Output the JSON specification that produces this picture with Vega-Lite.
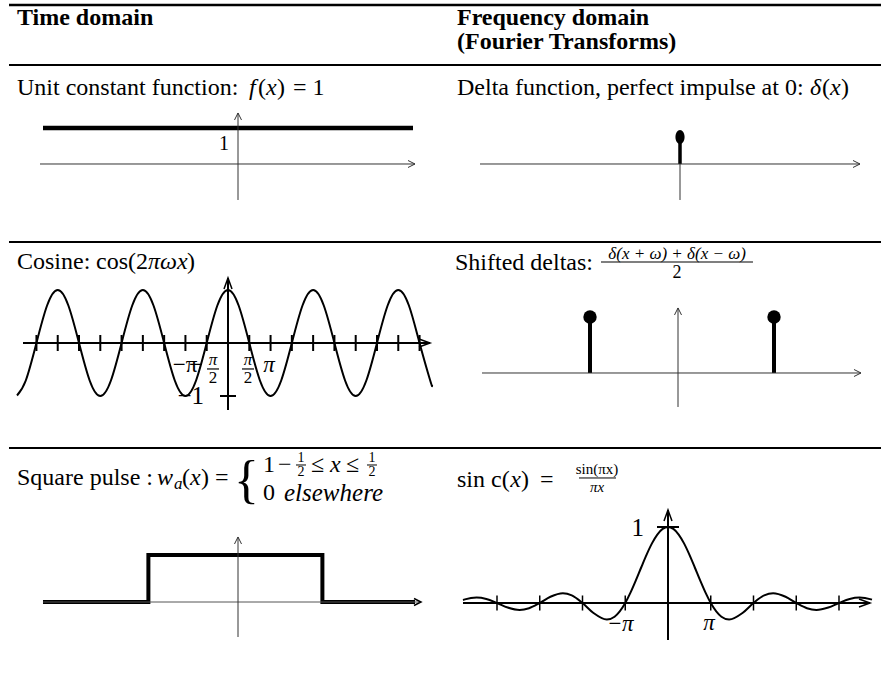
{
"$schema": "https://vega.github.io/schema/vega-lite/v6.json",
"padding": 0,
"background": "white",
"bounds": "flush",
"spacing": 0,
"columns": 2,
"align": "each",
"config": {
  "view": {"stroke": null},
  "axis": {"disable": true},
  "mark": {"color": "black"},
  "text": {"font": "Liberation Serif", "fontSize": 24},
  "concat": {"spacing": 0}
},
"concat": [
  {"width": 440, "height": 65, "data": {"values": [{}]},
   "layer": [
    {"mark": {"type": "rule", "strokeWidth": 2.5}, "encoding": {"x": {"datum": 0.0205, "scale": {"domain": [0, 1], "nice": false, "zero": false}}, "x2": {"datum": 1}, "y": {"datum": 0.923, "scale": {"domain": [0, 1], "nice": false, "zero": false}}}},
    {"mark": {"type": "text", "align": "left", "baseline": "middle", "fontWeight": "bold"}, "encoding": {"x": {"datum": 0.0386}, "y": {"datum": 0.723}, "text": {"value": "Time domain"}}}
   ]},
  {"width": 441, "height": 65, "data": {"values": [{}]},
   "layer": [
    {"mark": {"type": "rule", "strokeWidth": 2.5}, "encoding": {"x": {"datum": 0, "scale": {"domain": [0, 1], "nice": false, "zero": false}}, "x2": {"datum": 1}, "y": {"datum": 0.923, "scale": {"domain": [0, 1], "nice": false, "zero": false}}}},
    {"mark": {"type": "text", "align": "left", "baseline": "middle", "fontWeight": "bold"}, "encoding": {"x": {"datum": 0.0385}, "y": {"datum": 0.723}, "text": {"value": "Frequency domain"}}},
    {"mark": {"type": "text", "align": "left", "baseline": "middle", "fontWeight": "bold"}, "encoding": {"x": {"datum": 0.0385}, "y": {"datum": 0.354}, "text": {"value": "(Fourier Transforms)"}}}
   ]},
  {"width": 440, "height": 177, "data": {"values": [{}]},
   "layer": [
    {"data": {"values": [{"x": -9.75, "y": 1}, {"x": 8.75, "y": 1}]}, "mark": {"type": "line", "strokeWidth": 4.5, "strokeCap": "butt"},
     "encoding": {"x": {"field": "x", "type": "quantitative", "scale": {"domain": [-11.9, 10.1], "nice": false, "zero": false}}, "y": {"field": "y", "type": "quantitative", "scale": {"domain": [-2.1667, 2.75], "nice": false, "zero": false}}}},
    {"mark": {"type": "rule", "strokeWidth": 2}, "encoding": {"x": {"datum": -11.45}, "x2": {"datum": 10.1}, "y": {"datum": 2.75}}},
    {"mark": {"type": "text", "align": "left", "baseline": "middle"}, "encoding": {"x": {"datum": -11.05}, "y": {"datum": 2.111}, "text": {"value": "Unit constant function:"}}},
    {"mark": {"type": "text", "align": "left", "baseline": "middle", "fontStyle": "italic"}, "encoding": {"x": {"datum": 0.55}, "y": {"datum": 2.111}, "text": {"value": "f"}}},
    {"mark": {"type": "text", "align": "left", "baseline": "middle"}, "encoding": {"x": {"datum": 1.0}, "y": {"datum": 2.111}, "text": {"value": "("}}},
    {"mark": {"type": "text", "align": "left", "baseline": "middle", "fontStyle": "italic"}, "encoding": {"x": {"datum": 1.4}, "y": {"datum": 2.111}, "text": {"value": "x"}}},
    {"mark": {"type": "text", "align": "left", "baseline": "middle"}, "encoding": {"x": {"datum": 1.95}, "y": {"datum": 2.111}, "text": {"value": ")"}}},
    {"mark": {"type": "text", "align": "left", "baseline": "middle"}, "encoding": {"x": {"datum": 2.75}, "y": {"datum": 2.111}, "text": {"value": "= 1"}}},
    {"mark": {"type": "rule", "strokeWidth": 1, "color": "#333"}, "encoding": {"x": {"datum": -9.9}, "x2": {"datum": 8.85}, "y": {"datum": 0}}},
    {"mark": {"type": "point", "shape": "M-2,-1L0,0L-2,1", "size": 49, "filled": false, "strokeWidth": 1, "color": "#333", "opacity": 1}, "encoding": {"x": {"datum": 8.85}, "y": {"datum": 0}}},
    {"mark": {"type": "rule", "strokeWidth": 1, "color": "#333"}, "encoding": {"x": {"datum": 0}, "y": {"datum": -1}, "y2": {"datum": 1.4167}}},
    {"mark": {"type": "point", "shape": "M-1,2L0,0L1,2", "size": 49, "filled": false, "strokeWidth": 1, "color": "#333", "opacity": 1}, "encoding": {"x": {"datum": 0}, "y": {"datum": 1.4167}}},
    {"mark": {"type": "text", "align": "center", "baseline": "middle", "fontSize": 20}, "encoding": {"x": {"datum": -0.7}, "y": {"datum": 0.556}, "text": {"value": "1"}}}
   ]},
  {"width": 441, "height": 177, "data": {"values": [{}]},
   "layer": [
    {"data": {"values": [{"x": 0, "y": 0.75}]}, "mark": {"type": "rule", "strokeWidth": 3.5},
     "encoding": {"x": {"field": "x", "type": "quantitative", "scale": {"domain": [-12, 10.05], "nice": false, "zero": false}}, "y": {"field": "y", "type": "quantitative", "scale": {"domain": [-2.1667, 2.75], "nice": false, "zero": false}}, "y2": {"datum": 0}}},
    {"data": {"values": [{"x": 0, "y": 0.75}]}, "mark": {"type": "point", "shape": "M0,-1C0.359,-1,0.65,-0.552,0.65,0C0.65,0.552,0.359,1,0,1C-0.359,1,-0.65,0.552,-0.65,0C-0.65,-0.552,-0.359,-1,0,-1Z", "size": 196, "filled": true, "opacity": 1},
     "encoding": {"x": {"field": "x", "type": "quantitative"}, "y": {"field": "y", "type": "quantitative"}}},
    {"mark": {"type": "rule", "strokeWidth": 2}, "encoding": {"x": {"datum": -12}, "x2": {"datum": 10.05}, "y": {"datum": 2.75}}},
    {"mark": {"type": "text", "align": "left", "baseline": "middle"}, "encoding": {"x": {"datum": -11.15}, "y": {"datum": 2.111}, "text": {"value": "Delta function, perfect impulse at 0:"}}},
    {"mark": {"type": "text", "align": "left", "baseline": "middle", "fontStyle": "italic"}, "encoding": {"x": {"datum": 6.5}, "y": {"datum": 2.111}, "text": {"value": "δ"}}},
    {"mark": {"type": "text", "align": "left", "baseline": "middle"}, "encoding": {"x": {"datum": 7.1}, "y": {"datum": 2.111}, "text": {"value": "("}}},
    {"mark": {"type": "text", "align": "left", "baseline": "middle", "fontStyle": "italic"}, "encoding": {"x": {"datum": 7.5}, "y": {"datum": 2.111}, "text": {"value": "x"}}},
    {"mark": {"type": "text", "align": "left", "baseline": "middle"}, "encoding": {"x": {"datum": 8.05}, "y": {"datum": 2.111}, "text": {"value": ")"}}},
    {"mark": {"type": "rule", "strokeWidth": 1, "color": "#333"}, "encoding": {"x": {"datum": -10}, "x2": {"datum": 9}, "y": {"datum": 0}}},
    {"mark": {"type": "point", "shape": "M-2,-1L0,0L-2,1", "size": 49, "filled": false, "strokeWidth": 1, "color": "#333", "opacity": 1}, "encoding": {"x": {"datum": 9}, "y": {"datum": 0}}},
    {"mark": {"type": "rule", "strokeWidth": 1, "color": "#333"}, "encoding": {"x": {"datum": 0}, "y": {"datum": -1}, "y2": {"datum": 0}}}
   ]},
  {"width": 440, "height": 206, "data": {"values": [{}]},
   "layer": [
    {"data": {"values": [
      {"x": -15.57, "y": -0.9905}, {"x": -14.9226, "y": -0.7071}, {"x": -14.1372, "y": 0}, {"x": -13.3518, "y": 0.7071}, {"x": -12.5664, "y": 1}, {"x": -11.781, "y": 0.7071}, {"x": -10.9956, "y": 0}, {"x": -10.2102, "y": -0.7071}, {"x": -9.4248, "y": -1}, {"x": -8.6394, "y": -0.7071}, {"x": -7.854, "y": 0}, {"x": -7.0686, "y": 0.7071}, {"x": -6.2832, "y": 1}, {"x": -5.4978, "y": 0.7071}, {"x": -4.7124, "y": 0}, {"x": -3.927, "y": -0.7071}, {"x": -3.1416, "y": -1}, {"x": -2.3562, "y": -0.7071}, {"x": -1.5708, "y": 0}, {"x": -0.7854, "y": 0.7071}, {"x": 0, "y": 1}, {"x": 0.7854, "y": 0.7071}, {"x": 1.5708, "y": 0}, {"x": 2.3562, "y": -0.7071}, {"x": 3.1416, "y": -1}, {"x": 3.927, "y": -0.7071}, {"x": 4.7124, "y": 0}, {"x": 5.4978, "y": 0.7071}, {"x": 6.2832, "y": 1}, {"x": 7.0686, "y": 0.7071}, {"x": 7.854, "y": 0}, {"x": 8.6394, "y": -0.7071}, {"x": 9.4248, "y": -1}, {"x": 10.2102, "y": -0.7071}, {"x": 10.9956, "y": 0}, {"x": 11.781, "y": 0.7071}, {"x": 12.5664, "y": 1}, {"x": 13.3518, "y": 0.7071}, {"x": 14.1372, "y": 0}, {"x": 14.9226, "y": -0.7071}, {"x": 15.055, "y": -0.795}
     ]}, "mark": {"type": "line", "strokeWidth": 2, "interpolate": "natural"},
     "encoding": {"x": {"field": "x", "type": "quantitative", "scale": {"domain": [-16.8266, 15.6458], "nice": false, "zero": false}}, "y": {"field": "y", "type": "quantitative", "scale": {"domain": [-1.9811, 1.9057], "nice": false, "zero": false}}}},
    {"data": {"values": [{"x": -14.1372}, {"x": -12.5664}, {"x": -10.9956}, {"x": -9.4248}, {"x": -7.854}, {"x": -6.2832}, {"x": -4.7124}, {"x": -3.1416}, {"x": -1.5708}, {"x": 1.5708}, {"x": 3.1416}, {"x": 4.7124}, {"x": 6.2832}, {"x": 7.854}, {"x": 9.4248}, {"x": 10.9956}, {"x": 12.5664}, {"x": 14.1372}]},
     "mark": {"type": "rule", "strokeWidth": 2}, "encoding": {"x": {"field": "x", "type": "quantitative"}, "y": {"datum": -0.151}, "y2": {"datum": 0.151}}},
    {"mark": {"type": "rule", "strokeWidth": 2}, "encoding": {"x": {"datum": -16.1624}, "x2": {"datum": 15.6458}, "y": {"datum": 1.9057}}},
    {"mark": {"type": "text", "align": "left", "baseline": "middle"}, "encoding": {"x": {"datum": -15.572}, "y": {"datum": 1.528}, "text": {"value": "Cosine:"}}},
    {"mark": {"type": "text", "align": "left", "baseline": "middle"}, "encoding": {"x": {"datum": -9.742}, "y": {"datum": 1.528}, "text": {"value": "cos(2"}}},
    {"mark": {"type": "text", "align": "left", "baseline": "middle", "fontStyle": "italic"}, "encoding": {"x": {"datum": -5.904}, "y": {"datum": 1.528}, "text": {"value": "πωx"}}},
    {"mark": {"type": "text", "align": "left", "baseline": "middle"}, "encoding": {"x": {"datum": -3.026}, "y": {"datum": 1.528}, "text": {"value": ")"}}},
    {"mark": {"type": "rule", "strokeWidth": 2}, "encoding": {"x": {"datum": -15.129}, "x2": {"datum": 14.908}, "y": {"datum": 0}}},
    {"mark": {"type": "point", "shape": "M-2.75,-1L0,0L-2.75,1", "size": 64, "filled": false, "strokeWidth": 1.5, "opacity": 1}, "encoding": {"x": {"datum": 14.908}, "y": {"datum": 0}}},
    {"mark": {"type": "rule", "strokeWidth": 2}, "encoding": {"x": {"datum": 0}, "y": {"datum": -1.264}, "y2": {"datum": 1.226}}},
    {"mark": {"type": "point", "shape": "M-1,2.75L0,0L1,2.75", "size": 64, "filled": false, "strokeWidth": 1.5, "opacity": 1}, "encoding": {"x": {"datum": 0}, "y": {"datum": 1.226}}},
    {"mark": {"type": "rule", "strokeWidth": 2}, "encoding": {"x": {"datum": -0.59}, "x2": {"datum": 0.59}, "y": {"datum": -1}}},
    {"mark": {"type": "text", "align": "right", "baseline": "middle", "fontSize": 25}, "encoding": {"x": {"datum": -1.771}, "y": {"datum": -1.0}, "text": {"value": "−1"}}},
    {"mark": {"type": "text", "align": "center", "baseline": "middle", "fontSize": 23}, "encoding": {"x": {"datum": -3.173}, "y": {"datum": -0.415}, "text": {"value": "−π"}}},
    {"mark": {"type": "text", "align": "center", "baseline": "middle", "fontSize": 23}, "encoding": {"x": {"datum": -2.4}, "y": {"datum": -0.415}, "text": {"value": "−"}}},
    {"mark": {"type": "text", "align": "center", "baseline": "middle", "fontSize": 17, "fontStyle": "italic"}, "encoding": {"x": {"datum": -1.107}, "y": {"datum": -0.33}, "text": {"value": "π"}}},
    {"mark": {"type": "rule", "strokeWidth": 1.2}, "encoding": {"x": {"datum": -1.55}, "x2": {"datum": -0.664}, "y": {"datum": -0.49}}},
    {"mark": {"type": "text", "align": "center", "baseline": "middle", "fontSize": 17}, "encoding": {"x": {"datum": -1.107}, "y": {"datum": -0.66}, "text": {"value": "2"}}},
    {"mark": {"type": "text", "align": "center", "baseline": "middle", "fontSize": 17, "fontStyle": "italic"}, "encoding": {"x": {"datum": 1.476}, "y": {"datum": -0.33}, "text": {"value": "π"}}},
    {"mark": {"type": "rule", "strokeWidth": 1.2}, "encoding": {"x": {"datum": 1.033}, "x2": {"datum": 1.919}, "y": {"datum": -0.49}}},
    {"mark": {"type": "text", "align": "center", "baseline": "middle", "fontSize": 17}, "encoding": {"x": {"datum": 1.476}, "y": {"datum": -0.66}, "text": {"value": "2"}}},
    {"mark": {"type": "text", "align": "center", "baseline": "middle", "fontSize": 23, "fontStyle": "italic"}, "encoding": {"x": {"datum": 3.026}, "y": {"datum": -0.415}, "text": {"value": "π"}}}
   ]},
  {"width": 441, "height": 206, "data": {"values": [{}]},
   "layer": [
    {"data": {"values": [{"x": -0.9565, "y": 1}, {"x": 1.0435, "y": 1}]}, "mark": {"type": "rule", "strokeWidth": 4},
     "encoding": {"x": {"field": "x", "type": "quantitative", "scale": {"domain": [-2.587, 2.2065], "nice": false, "zero": false}}, "y": {"field": "y", "type": "quantitative", "scale": {"domain": [-1.3393, 2.3393], "nice": false, "zero": false}}, "y2": {"datum": 0}}},
    {"data": {"values": [{"x": -0.9565, "y": 1}, {"x": 1.0435, "y": 1}]}, "mark": {"type": "point", "shape": "circle", "size": 180, "filled": true, "opacity": 1},
     "encoding": {"x": {"field": "x", "type": "quantitative"}, "y": {"field": "y", "type": "quantitative"}}},
    {"mark": {"type": "rule", "strokeWidth": 2}, "encoding": {"x": {"datum": -2.587}, "x2": {"datum": 2.2065}, "y": {"datum": 2.3393}}},
    {"mark": {"type": "text", "align": "left", "baseline": "middle"}, "encoding": {"x": {"datum": -2.424}, "y": {"datum": 1.964}, "text": {"value": "Shifted deltas:"}}},
    {"mark": {"type": "text", "align": "center", "baseline": "middle", "fontSize": 17, "fontStyle": "italic"}, "encoding": {"x": {"datum": -0.01}, "y": {"datum": 2.13}, "text": {"value": "δ(x + ω) + δ(x − ω)"}}},
    {"mark": {"type": "rule", "strokeWidth": 1.2}, "encoding": {"x": {"datum": -0.837}, "x2": {"datum": 0.815}, "y": {"datum": 1.982}}},
    {"mark": {"type": "text", "align": "center", "baseline": "middle", "fontSize": 18}, "encoding": {"x": {"datum": -0.01}, "y": {"datum": 1.786}, "text": {"value": "2"}}},
    {"mark": {"type": "rule", "strokeWidth": 1, "color": "#333"}, "encoding": {"x": {"datum": -2.1304}, "x2": {"datum": 1.9891}, "y": {"datum": 0}}},
    {"mark": {"type": "point", "shape": "M-2,-1L0,0L-2,1", "size": 49, "filled": false, "strokeWidth": 1, "color": "#333", "opacity": 1}, "encoding": {"x": {"datum": 1.9891}, "y": {"datum": 0}}},
    {"mark": {"type": "rule", "strokeWidth": 1, "color": "#333"}, "encoding": {"x": {"datum": 0}, "y": {"datum": -0.607}, "y2": {"datum": 1.161}}},
    {"mark": {"type": "point", "shape": "M-1,2L0,0L1,2", "size": 49, "filled": false, "strokeWidth": 1, "color": "#333", "opacity": 1}, "encoding": {"x": {"datum": 0}, "y": {"datum": 1.161}}}
   ]},
  {"width": 440, "height": 229, "data": {"values": [{}]},
   "layer": [
    {"data": {"values": [{"i": 0, "x": -1.1207, "y": 0}, {"i": 1, "x": -0.515, "y": 0}, {"i": 2, "x": -0.515, "y": 1}, {"i": 3, "x": 0.485, "y": 1}, {"i": 4, "x": 0.485, "y": 0}, {"i": 5, "x": 1.0172, "y": 0}]},
     "mark": {"type": "line", "strokeWidth": 4, "strokeJoin": "miter", "strokeCap": "butt"},
     "encoding": {"x": {"field": "x", "type": "quantitative", "scale": {"domain": [-1.3678, 1.1609], "nice": false, "zero": false}}, "y": {"field": "y", "type": "quantitative", "scale": {"domain": [-1.5957, 3.2766], "nice": false, "zero": false}}, "order": {"field": "i", "type": "quantitative"}}},
    {"mark": {"type": "rule", "strokeWidth": 2}, "encoding": {"x": {"datum": -1.3161}, "x2": {"datum": 1.1609}, "y": {"datum": 3.2766}}},
    {"mark": {"type": "text", "align": "left", "baseline": "middle"}, "encoding": {"x": {"datum": -1.2701}, "y": {"datum": 2.638}, "text": {"value": "Square pulse :"}}},
    {"mark": {"type": "text", "align": "left", "baseline": "middle", "fontStyle": "italic"}, "encoding": {"x": {"datum": -0.4655}, "y": {"datum": 2.638}, "text": {"value": "w"}}},
    {"mark": {"type": "text", "align": "left", "baseline": "middle", "fontStyle": "italic", "fontSize": 17}, "encoding": {"x": {"datum": -0.3678}, "y": {"datum": 2.511}, "text": {"value": "a"}}},
    {"mark": {"type": "text", "align": "left", "baseline": "middle"}, "encoding": {"x": {"datum": -0.3218}, "y": {"datum": 2.638}, "text": {"value": "("}}},
    {"mark": {"type": "text", "align": "left", "baseline": "middle", "fontStyle": "italic"}, "encoding": {"x": {"datum": -0.2759}, "y": {"datum": 2.638}, "text": {"value": "x"}}},
    {"mark": {"type": "text", "align": "left", "baseline": "middle"}, "encoding": {"x": {"datum": -0.2126}, "y": {"datum": 2.638}, "text": {"value": ")"}}},
    {"mark": {"type": "text", "align": "left", "baseline": "middle"}, "encoding": {"x": {"datum": -0.1322}, "y": {"datum": 2.638}, "text": {"value": "="}}},
    {"mark": {"type": "text", "align": "left", "baseline": "middle", "fontSize": 52}, "encoding": {"x": {"datum": -0.023}, "y": {"datum": 2.58}, "text": {"value": "{"}}},
    {"mark": {"type": "text", "align": "left", "baseline": "middle"}, "encoding": {"x": {"datum": 0.1437}, "y": {"datum": 2.915}, "text": {"value": "1"}}},
    {"mark": {"type": "text", "align": "left", "baseline": "middle"}, "encoding": {"x": {"datum": 0.2299}, "y": {"datum": 2.915}, "text": {"value": "−"}}},
    {"mark": {"type": "text", "align": "center", "baseline": "middle", "fontSize": 14}, "encoding": {"x": {"datum": 0.3621}, "y": {"datum": 3.064}, "text": {"value": "1"}}},
    {"mark": {"type": "rule", "strokeWidth": 1}, "encoding": {"x": {"datum": 0.3333}, "x2": {"datum": 0.3908}, "y": {"datum": 2.915}}},
    {"mark": {"type": "text", "align": "center", "baseline": "middle", "fontSize": 14}, "encoding": {"x": {"datum": 0.3621}, "y": {"datum": 2.766}, "text": {"value": "2"}}},
    {"mark": {"type": "text", "align": "left", "baseline": "middle"}, "encoding": {"x": {"datum": 0.4195}, "y": {"datum": 2.915}, "text": {"value": "≤"}}},
    {"mark": {"type": "text", "align": "left", "baseline": "middle", "fontStyle": "italic"}, "encoding": {"x": {"datum": 0.5287}, "y": {"datum": 2.915}, "text": {"value": "x"}}},
    {"mark": {"type": "text", "align": "left", "baseline": "middle"}, "encoding": {"x": {"datum": 0.6207}, "y": {"datum": 2.915}, "text": {"value": "≤"}}},
    {"mark": {"type": "text", "align": "center", "baseline": "middle", "fontSize": 14}, "encoding": {"x": {"datum": 0.77}, "y": {"datum": 3.064}, "text": {"value": "1"}}},
    {"mark": {"type": "rule", "strokeWidth": 1}, "encoding": {"x": {"datum": 0.7413}, "x2": {"datum": 0.7987}, "y": {"datum": 2.915}}},
    {"mark": {"type": "text", "align": "center", "baseline": "middle", "fontSize": 14}, "encoding": {"x": {"datum": 0.77}, "y": {"datum": 2.766}, "text": {"value": "2"}}},
    {"mark": {"type": "text", "align": "left", "baseline": "middle"}, "encoding": {"x": {"datum": 0.1437}, "y": {"datum": 2.319}, "text": {"value": "0"}}},
    {"mark": {"type": "text", "align": "left", "baseline": "middle", "fontStyle": "italic", "fontSize": 25}, "encoding": {"x": {"datum": 0.2644}, "y": {"datum": 2.319}, "text": {"value": "elsewhere"}}},
    {"mark": {"type": "rule", "strokeWidth": 1, "color": "#555"}, "encoding": {"x": {"datum": -1.1207}, "x2": {"datum": 1.0517}, "y": {"datum": 0}}},
    {"mark": {"type": "point", "shape": "M-2,-1L0,0L-2,1", "size": 49, "filled": false, "strokeWidth": 1.5, "opacity": 1}, "encoding": {"x": {"datum": 1.0517}, "y": {"datum": 0}}},
    {"mark": {"type": "rule", "strokeWidth": 1, "color": "#333"}, "encoding": {"x": {"datum": 0}, "y": {"datum": -0.7447}, "y2": {"datum": 1.383}}},
    {"mark": {"type": "point", "shape": "M-1,2L0,0L1,2", "size": 49, "filled": false, "strokeWidth": 1, "color": "#333", "opacity": 1}, "encoding": {"x": {"datum": 0}, "y": {"datum": 1.383}}}
   ]},
  {"width": 441, "height": 229, "data": {"values": [{}]},
   "layer": [
    {"data": {"values": [
      {"x": -15.065, "y": 0.0395}, {"x": -14.9226, "y": 0.0474}, {"x": -14.0662, "y": 0.0709}, {"x": -13.3518, "y": 0.053}, {"x": -12.5664, "y": 0}, {"x": -11.781, "y": -0.06}, {"x": -10.9041, "y": -0.0913}, {"x": -10.2102, "y": -0.0693}, {"x": -9.4248, "y": 0}, {"x": -8.6394, "y": 0.0818}, {"x": -7.7253, "y": 0.1284}, {"x": -7.0686, "y": 0.1}, {"x": -6.2832, "y": 0}, {"x": -5.4978, "y": -0.1286}, {"x": -4.4934, "y": -0.2172}, {"x": -3.927, "y": -0.1801}, {"x": -3.1416, "y": 0}, {"x": -2.7489, "y": 0.1392}, {"x": -2.3562, "y": 0.3001}, {"x": -1.9635, "y": 0.4705}, {"x": -1.5708, "y": 0.6366}, {"x": -1.1781, "y": 0.7842}, {"x": -0.7854, "y": 0.9003}, {"x": -0.3927, "y": 0.9745}, {"x": 0, "y": 1},
      {"x": 0.3927, "y": 0.9745}, {"x": 0.7854, "y": 0.9003}, {"x": 1.1781, "y": 0.7842}, {"x": 1.5708, "y": 0.6366}, {"x": 1.9635, "y": 0.4705}, {"x": 2.3562, "y": 0.3001}, {"x": 2.7489, "y": 0.1392}, {"x": 3.1416, "y": 0}, {"x": 3.927, "y": -0.1801}, {"x": 4.4934, "y": -0.2172}, {"x": 5.4978, "y": -0.1286}, {"x": 6.2832, "y": 0}, {"x": 7.0686, "y": 0.1}, {"x": 7.7253, "y": 0.1284}, {"x": 8.6394, "y": 0.0818}, {"x": 9.4248, "y": 0}, {"x": 10.2102, "y": -0.0693}, {"x": 10.9041, "y": -0.0913}, {"x": 11.781, "y": -0.06}, {"x": 12.5664, "y": 0}, {"x": 13.3518, "y": 0.053}, {"x": 14.0662, "y": 0.0709}, {"x": 14.9226, "y": 0.0474}, {"x": 14.99, "y": 0.0439}
     ]}, "mark": {"type": "line", "strokeWidth": 2, "interpolate": "monotone"},
     "encoding": {"x": {"field": "x", "type": "quantitative", "scale": {"domain": [-16.755, 15.653], "nice": false, "zero": false}}, "y": {"field": "y", "type": "quantitative", "scale": {"domain": [-0.9737, 2.0395], "nice": false, "zero": false}}}},
    {"data": {"values": [{"x": -12.5664}, {"x": -9.4248}, {"x": -6.2832}, {"x": -3.1416}, {"x": 3.1416}, {"x": 6.2832}, {"x": 9.4248}, {"x": 12.5664}]},
     "mark": {"type": "rule", "strokeWidth": 1.5}, "encoding": {"x": {"field": "x", "type": "quantitative"}, "y": {"datum": -0.099}, "y2": {"datum": 0.099}}},
    {"mark": {"type": "rule", "strokeWidth": 2}, "encoding": {"x": {"datum": -16.755}, "x2": {"datum": 15.653}, "y": {"datum": 2.0395}}},
    {"mark": {"type": "text", "align": "left", "baseline": "middle"}, "encoding": {"x": {"datum": -15.505}, "y": {"datum": 1.618}, "text": {"value": "sin c("}}},
    {"mark": {"type": "text", "align": "left", "baseline": "middle", "fontStyle": "italic"}, "encoding": {"x": {"datum": -11.6}, "y": {"datum": 1.618}, "text": {"value": "x"}}},
    {"mark": {"type": "text", "align": "left", "baseline": "middle"}, "encoding": {"x": {"datum": -10.8}, "y": {"datum": 1.618}, "text": {"value": ")"}}},
    {"mark": {"type": "text", "align": "left", "baseline": "middle"}, "encoding": {"x": {"datum": -9.406}, "y": {"datum": 1.618}, "text": {"value": "="}}},
    {"mark": {"type": "text", "align": "center", "baseline": "middle", "fontSize": 15}, "encoding": {"x": {"datum": -5.2175}, "y": {"datum": 1.763}, "text": {"value": "sin(πx)"}}},
    {"mark": {"type": "rule", "strokeWidth": 1}, "encoding": {"x": {"datum": -6.54}, "x2": {"datum": -3.822}, "y": {"datum": 1.645}}},
    {"mark": {"type": "text", "align": "center", "baseline": "middle", "fontSize": 15, "fontStyle": "italic"}, "encoding": {"x": {"datum": -5.2175}, "y": {"datum": 1.526}, "text": {"value": "πx"}}},
    {"mark": {"type": "rule", "strokeWidth": 2}, "encoding": {"x": {"datum": -15.065}, "x2": {"datum": 14.844}, "y": {"datum": 0}}},
    {"mark": {"type": "point", "shape": "M-2.75,-1L0,0L-2.75,1", "size": 64, "filled": false, "strokeWidth": 1.5, "opacity": 1}, "encoding": {"x": {"datum": 14.844}, "y": {"datum": 0}}},
    {"mark": {"type": "rule", "strokeWidth": 2}, "encoding": {"x": {"datum": 0}, "y": {"datum": -0.487}, "y2": {"datum": 1.2237}}},
    {"mark": {"type": "point", "shape": "M-1,2.75L0,0L1,2.75", "size": 64, "filled": false, "strokeWidth": 1.5, "opacity": 1}, "encoding": {"x": {"datum": 0}, "y": {"datum": 1.2237}}},
    {"mark": {"type": "rule", "strokeWidth": 2}, "encoding": {"x": {"datum": -0.81}, "x2": {"datum": 0.81}, "y": {"datum": 1}}},
    {"mark": {"type": "text", "align": "right", "baseline": "middle", "fontSize": 25}, "encoding": {"x": {"datum": -1.764}, "y": {"datum": 0.987}, "text": {"value": "1"}}},
    {"mark": {"type": "text", "align": "center", "baseline": "middle", "fontSize": 23}, "encoding": {"x": {"datum": -3.9}, "y": {"datum": -0.276}, "text": {"value": "−"}}},
    {"mark": {"type": "text", "align": "center", "baseline": "middle", "fontSize": 23, "fontStyle": "italic"}, "encoding": {"x": {"datum": -2.95}, "y": {"datum": -0.276}, "text": {"value": "π"}}},
    {"mark": {"type": "text", "align": "center", "baseline": "middle", "fontSize": 23, "fontStyle": "italic"}, "encoding": {"x": {"datum": 3.013}, "y": {"datum": -0.263}, "text": {"value": "π"}}}
   ]}
]
}
